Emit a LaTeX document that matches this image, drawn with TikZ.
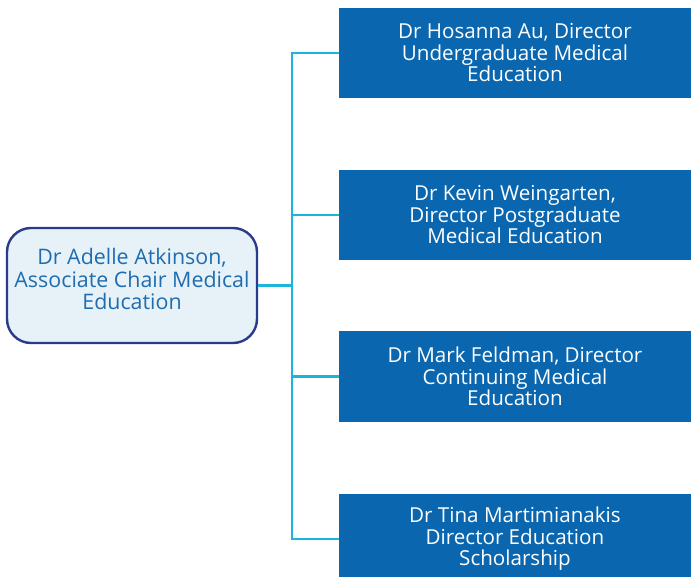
\documentclass[tikz,border=0pt]{standalone}
\usepackage{fontspec}
\setmainfont{Open Sans}
\definecolor{boxblue}{HTML}{0A66AE}
\definecolor{linecyan}{HTML}{1CB4D8}
\definecolor{leadfill}{HTML}{E7F2F8}
\definecolor{leadborder}{HTML}{2B3B8C}
\definecolor{leadtext}{HTML}{1F6CB0}
\begin{document}
\begin{tikzpicture}[x=1pt,y=-1pt,
  director/.style={rectangle, fill=boxblue, text=white, minimum width=352pt, minimum height=90pt,
    align=center, inner sep=0pt, font=\fontsize{20.6}{21.5}\selectfont},
  lead/.style={rectangle, rounded corners=24pt, draw=leadborder, line width=2.4pt, fill=leadfill,
    text=leadtext, minimum width=250pt, minimum height=115pt, align=center, inner sep=0pt,
    font=\fontsize{21.4}{22.5}\selectfont},
  link/.style={draw=linecyan, line width=2.8pt}]
\useasboundingbox (0,0) rectangle (691,577);
\begin{scope}
\clip (0,0) rectangle (691,577);
\node[lead] (chair) at (132,285.5) {Dr Adelle Atkinson,\\Associate Chair Medical\\Education\\[-16pt]\strut};
\node[director] (ume) at (515,53) {Dr Hosanna Au, Director\\Undergraduate Medical\\Education};
\node[director] (pgme) at (515,215) {Dr Kevin Weingarten,\\Director Postgraduate\\Medical Education};
\node[director] (cme) at (515,376.5) {Dr Mark Feldman, Director\\Continuing Medical\\Education};
\node[director] (schol) at (515,539) {Dr Tina Martimianakis\\Director Education\\Scholarship};
\coordinate (trunk) at (292,285.5);
\draw[link] (chair.east) -- (trunk);
\draw[link] (trunk) -- (trunk |- ume.west) -- (ume.west);
\draw[link] (trunk) -- (trunk |- schol.west) -- (schol.west);
\draw[link] (trunk |- pgme.west) -- (pgme.west);
\draw[link] (trunk |- cme.west) -- (cme.west);
\end{scope}
\end{tikzpicture}
\end{document}
